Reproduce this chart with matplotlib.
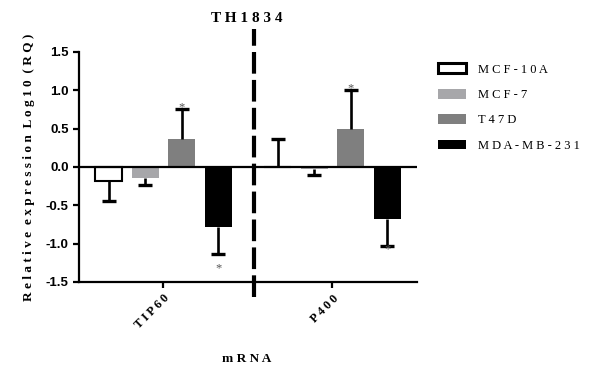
import numpy as np
import matplotlib

matplotlib.use("Agg")
import matplotlib.pyplot as plt

# data
genes = ["TIP60", "P400"]
cell_lines = ["MCF-10A", "MCF-7", "T47D", "MDA-MB-231"]
log_rq = {
    "MCF-10A": [-0.18, 0.005],
    "MCF-7": [-0.15, -0.03],
    "T47D": [0.37, 0.50],
    "MDA-MB-231": [-0.78, -0.68],
}
sd = {
    "MCF-10A": [0.26, 0.36],
    "MCF-7": [0.08, 0.07],
    "T47D": [0.39, 0.50],
    "MDA-MB-231": [0.36, 0.35],
}
# significance stars: (gene index, cell line, y position)
stars = [(0, "T47D", 0.78), (0, "MDA-MB-231", -1.32),
         (1, "T47D", 1.02), (1, "MDA-MB-231", -1.08)]

colors = {"MCF-10A": "white", "MCF-7": "#a7a7aa", "T47D": "#7f7f7f", "MDA-MB-231": "black"}
SERIF = ["Liberation Serif", "DejaVu Serif"]


def tight(s):
    # thin letter spacing
    return " ".join("\u2009".join(w) for w in s.split(" "))


def wide(s):
    # GraphPad-style letter spacing
    return "  ".join(" ".join(w) for w in s.split(" "))


fig = plt.figure(figsize=(5.94, 3.71), dpi=100)
ax = fig.add_axes([0.133, 0.24, 0.569, 0.62])

x = np.arange(len(genes))
width, step = 0.16, 0.216
handles = []
for i, name in enumerate(cell_lines):
    pos = x + (i - 1.5) * step
    vals = np.array(log_rq[name])
    err = np.array(sd[name])
    tips = vals + np.where(vals < 0, -err, err)
    b = ax.bar(pos, vals, width, color=colors[name], edgecolor="black",
               linewidth=1.5 if name == "MCF-10A" else 0, zorder=2, label=name)
    # one-sided error bars, pointing away from zero
    ax.vlines(pos, vals, tips, color="black", lw=1.9, zorder=3)
    ax.plot(pos, tips, ls="none", marker="_", ms=9.5, mew=2.4, color="black", zorder=3)
    handles.append(b)

for gi, name, ys in stars:
    xs = x[gi] + (cell_lines.index(name) - 1.5) * step
    ax.text(xs, ys, "*", ha="center", va="center", fontsize=9, color="#555555",
            family=SERIF)

ax.axhline(0, color="black", lw=1.6, zorder=4)
ax.axvline(0.535, ymin=-0.065, ymax=1.1, color="black", lw=3, ls=(0, (5.2, 1.5)),
           clip_on=False, zorder=5)

ax.set_xlim(-0.5, 1.5)
ax.set_ylim(-1.5, 1.5)
yt = [-1.5, -1.0, -0.5, 0.0, 0.5, 1.0, 1.5]
ax.set_yticks(yt)
ax.set_yticklabels([f"{v:.1f}" for v in yt], family="Liberation Sans",
                   fontweight="bold", fontsize=9.5)
ax.set_xticks(x)
ax.set_xticklabels([tight(g) for g in genes], rotation=45, ha="right",
                   rotation_mode="anchor", family=SERIF, fontweight="bold", fontsize=9)
ax.tick_params(axis="both", direction="out", length=4, width=1.6)
for side in ("top", "right"):
    ax.spines[side].set_visible(False)
for side in ("left", "bottom"):
    ax.spines[side].set_linewidth(1.6)

ax.set_ylabel(wide("Relative expression Log10 (RQ)"), family=SERIF,
              fontweight="bold", fontsize=9.5, labelpad=8)
fig.text(0.415, 0.032, wide("mRNA"), family=SERIF, fontweight="bold",
         fontsize=9.5, ha="center", va="center")
fig.text(0.415, 0.95, wide("TH1834"), family=SERIF, fontweight="bold",
         fontsize=11, ha="center", va="center")

leg = ax.legend(handles, [wide(c) for c in cell_lines], loc="upper left",
                bbox_to_anchor=(1.03, 1.0), frameon=False,
                prop={"family": SERIF, "size": 9}, handlelength=2.2,
                handleheight=0.85, labelspacing=1.05, handletextpad=1.0)
leg.get_patches()[0].set_linewidth(2.2)

fig.savefig("out.png", dpi=100)
